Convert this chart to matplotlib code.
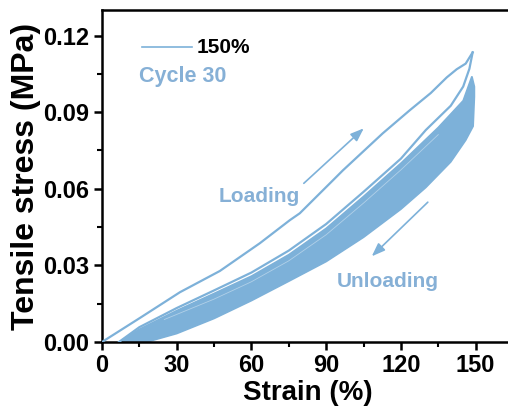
import numpy as np
import matplotlib.pyplot as plt

plt.rcParams['font.family'] = ['Liberation Sans', 'DejaVu Sans']
plt.rcParams['font.weight'] = 'bold'

# first cycle, loading and unloading (strain %, stress MPa)
load1_strain = [0, 15.2, 31.3, 47.3, 63.4, 75.4, 79.4, 92.7, 96.7, 112.7, 123.5, 132.0, 138.4, 142.4, 146.0, 148.8]
load1_stress = [0, 0.0094, 0.0195, 0.0278, 0.0387, 0.0477, 0.0504, 0.0633, 0.0672, 0.0817, 0.0907,
                0.0975, 0.1036, 0.1068, 0.1090, 0.1134]
unload1_strain = [148.8, 147.5, 145.0, 140.0, 130.0, 120.0, 105.0, 90.0, 75.0, 60.0, 45.0, 30.0, 15.0, 6.8]
unload1_stress = [0.1134, 0.1070, 0.1000, 0.0925, 0.0830, 0.0718, 0.0588, 0.0462, 0.0358,
                  0.0272, 0.0202, 0.0133, 0.0058, 0.0]

# envelope of cycles 2-30 (upper: loading of cycle 2, lower: unloading of cycle 30)
band_up_strain = [7, 15, 30, 45, 60, 75, 90, 105, 120, 135, 145, 148.5, 149.5]
band_up_stress = [0.0, 0.0050, 0.0123, 0.0190, 0.0258, 0.0342, 0.0445, 0.0570, 0.0700,
                  0.0840, 0.0945, 0.1040, 0.1000]
band_lo_strain = [149.5, 149.0, 146.0, 140.0, 130.0, 120.0, 105.0, 90.0, 75.0, 60.0, 45.0, 30.0, 18.0]
band_lo_stress = [0.0960, 0.0845, 0.0790, 0.0705, 0.0605, 0.0520, 0.0410, 0.0315, 0.0238,
                  0.0162, 0.0092, 0.0033, 0.0]

# thin gaps between overlapping cycles near the top of the band
streak_strain = [25, 45, 60, 75, 90, 105, 120, 135]
streak_stress = [0.0088, 0.0168, 0.0236, 0.0318, 0.0420, 0.0544, 0.0674, 0.0812]

xticks = [0, 30, 60, 90, 120, 150]
yticks = [0.00, 0.03, 0.06, 0.09, 0.12]

blue = '#7DB1D9'
txt_blue = '#86B0D6'

fig = plt.figure(figsize=(5.08, 4.17), dpi=100)
ax = fig.add_axes([102 / 508, 75 / 417, 411 / 508, 332 / 417])

# band of cycles 2-30
ax.fill(band_up_strain + band_lo_strain, band_up_stress + band_lo_stress,
        color=blue, lw=1.2, ec=blue, zorder=2)
ax.plot(streak_strain, streak_stress, color='white', lw=0.6, alpha=0.4, zorder=2.5)
ax.plot(load1_strain, load1_stress, color=blue, lw=1.6, zorder=3)
ax.plot(unload1_strain, unload1_stress, color=blue, lw=1.6, zorder=3)

ax.set_xlim(0, 165)
ax.set_ylim(0, 0.13)
ax.set_xticks(xticks)
ax.set_yticks(yticks)
ax.set_xticks([15, 45, 75, 105, 135, 165], minor=True)
ax.set_yticks([0.015, 0.045, 0.075, 0.105], minor=True)
ax.set_yticklabels([f'{v:.2f}' for v in yticks])
ax.tick_params(which='major', direction='out', length=6, width=1.8, labelsize=17, pad=3)
ax.tick_params(which='minor', direction='out', length=3.5, width=1.5)
for s in ax.spines.values():
    s.set_linewidth(1.8)
ax.spines['right'].set_visible(False)

ax.set_xlabel('Strain (%)', fontsize=20, fontweight='bold', labelpad=2)
ax.set_ylabel('Tensile stress (MPa)', fontsize=23, fontweight='bold', labelpad=2)

# legend-like annotation
ax.plot([16, 36], [0.1155, 0.1155], color=blue, lw=1.2)
ax.text(38, 0.1155, '150%', fontsize=15, fontweight='bold', va='center', ha='left')
ax.text(15, 0.1040, 'Cycle 30', fontsize=15.5, fontweight='bold', color=txt_blue, va='center', ha='left')

# arrows
ax.annotate('', xy=(105.9, 0.0844), xytext=(80.2, 0.0614),
            arrowprops=dict(arrowstyle='-|>,head_length=0.8,head_width=0.3', color=blue, lw=1.2))
ax.annotate('', xy=(107.5, 0.0328), xytext=(131.6, 0.0555),
            arrowprops=dict(arrowstyle='-|>,head_length=0.8,head_width=0.3', color=blue, lw=1.2))
ax.text(63, 0.0570, 'Loading', fontsize=15, fontweight='bold', color=txt_blue, ha='center', va='center')
ax.text(114.7, 0.0238, 'Unloading', fontsize=15, fontweight='bold', color=txt_blue, ha='center', va='center')

fig.savefig('out.png', dpi=100)
